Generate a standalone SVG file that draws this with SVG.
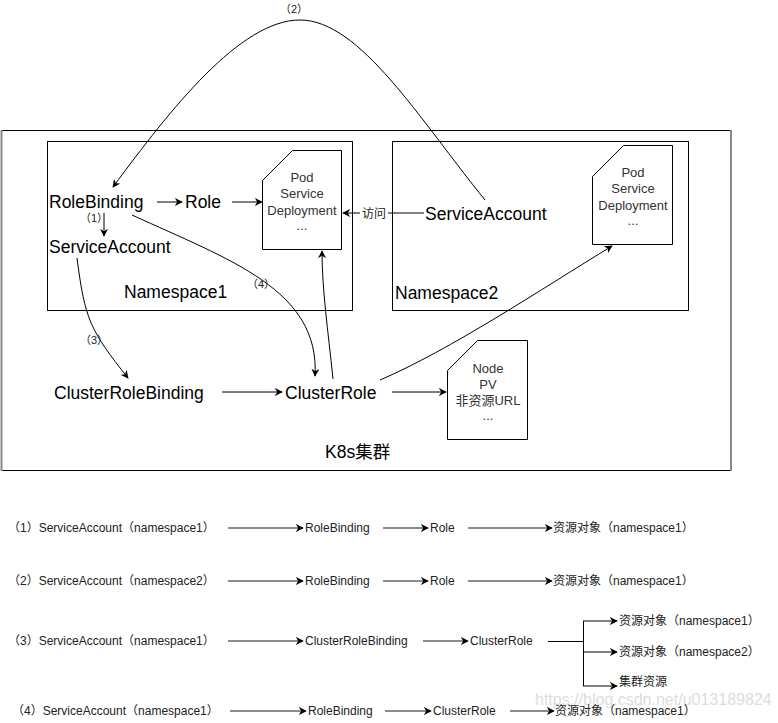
<svg xmlns="http://www.w3.org/2000/svg" width="778" height="723" viewBox="0 0 778 723">
<style>
text{font-family:"Liberation Sans","Noto Sans CJK SC",sans-serif;fill:#000}
.big{font-size:17.5px}
.doc{font-size:13px;fill:#333;text-anchor:middle}
.sm{font-size:12px;fill:#222}
.lbl{font-size:11px;fill:#222}
.box{fill:none;stroke:#000;stroke-width:1}
.docs{fill:#fff;stroke:#000;stroke-width:1}
.c{fill:none;stroke:#000;stroke-width:1;marker-end:url(#ah)}
.g{fill:none;stroke:#666;stroke-width:1.5;marker-end:url(#ah2)}
</style>
<defs>
<marker id="ah" viewBox="0 0 10 10" refX="9" refY="5" markerWidth="8" markerHeight="8" markerUnits="userSpaceOnUse" orient="auto"><path d="M0,0 L10,5 L0,10 L3,5 Z" fill="#000"/></marker>
<marker id="ah2" viewBox="0 0 10 10" refX="9" refY="5" markerWidth="8" markerHeight="8" markerUnits="userSpaceOnUse" orient="auto"><path d="M0,0 L10,5 L0,10 L3,5 Z" fill="#000"/></marker>
</defs>
<rect width="778" height="723" fill="#fff"/>

<g id="cluster">
<line x1="1" y1="130.5" x2="731" y2="130.5" stroke="#000"/>
<line x1="1" y1="470.5" x2="731" y2="470.5" stroke="#000"/>
<line x1="1.5" y1="130" x2="1.5" y2="471" stroke="#888" stroke-width="2"/>
<line x1="731" y1="130" x2="731" y2="471" stroke="#888" stroke-width="2"/>
<text class="big" x="325" y="458">K8s集群</text>
</g>

<g id="namespace1">
<rect class="box" x="47.5" y="141.5" width="305" height="169"/>
<text class="big" x="124" y="298">Namespace1</text>
</g>
<g id="namespace2">
<rect class="box" x="392.5" y="141.5" width="296" height="169"/>
<text class="big" x="395" y="299">Namespace2</text>
</g>

<g id="pod1">
<path class="docs" d="M292.5,150.5 H341.5 V249.5 H262.5 V180.5 Z"/>
<text class="doc" x="302" y="182">Pod</text>
<text class="doc" x="302" y="198">Service</text>
<text class="doc" x="302" y="215">Deployment</text>
<text class="doc" x="302" y="230">...</text>
</g>
<g id="pod2">
<path class="docs" d="M623.5,145.5 H672.5 V244.5 H592.5 V176.5 Z"/>
<text class="doc" x="633" y="177">Pod</text>
<text class="doc" x="633" y="193">Service</text>
<text class="doc" x="633" y="210">Deployment</text>
<text class="doc" x="633" y="225">...</text>
</g>
<g id="nodepv">
<path class="docs" d="M477.5,340.5 H527.5 V439.5 H447.5 V370.5 Z"/>
<text class="doc" x="488" y="373">Node</text>
<text class="doc" x="488" y="389">PV</text>
<text class="doc" x="488" y="405">非资源URL</text>
<text class="doc" x="488" y="420">...</text>
</g>

<g id="rolebinding"><text class="big" x="49" y="208">RoleBinding</text></g>
<g id="role"><text class="big" x="185" y="208">Role</text></g>
<g id="sa1"><text class="big" x="49" y="253">ServiceAccount</text></g>
<g id="sa2"><text class="big" x="425" y="220">ServiceAccount</text></g>
<g id="crb"><text class="big" x="54" y="399">ClusterRoleBinding</text></g>
<g id="cr"><text class="big" x="285" y="399">ClusterRole</text></g>

<g id="connectors">
<line class="c" x1="157" y1="202" x2="182" y2="202"/>
<line class="c" x1="232" y1="202" x2="262" y2="202"/>
<line class="c" x1="104" y1="213" x2="104" y2="236"/>
<text class="lbl" x="80" y="222">（1）</text>
<line class="c" x1="424" y1="213" x2="343" y2="213"/>
<rect x="360" y="205" width="28" height="16" fill="#fff"/>
<text class="sm" x="362" y="218">访问</text>
<path class="c" d="M485,200 C420,120 360,20 300,20 C240,20 170,110 113,187"/>
<text class="lbl" x="280" y="13">（2）</text>
<path class="c" d="M77,258 C85,320 90,330 128,378"/>
<text class="lbl" x="80" y="344">（3）</text>
<path class="c" d="M132,215 C230,260 320,290 315,376"/>
<text class="lbl" x="247" y="288">（4）</text>
<path class="c" d="M333,379 C328,330 322,290 322,251"/>
<path class="c" d="M380,380 C450,350 540,290 612,246"/>
<line class="c" x1="222" y1="392" x2="282" y2="392"/>
<line class="c" x1="392" y1="392" x2="446" y2="392"/>
</g>

<g id="legend">
<text class="sm" x="8" y="532">（1）ServiceAccount（namespace1）</text>
<line class="g" x1="228" y1="528" x2="303" y2="528"/>
<text class="sm" x="305" y="532">RoleBinding</text>
<line class="g" x1="383" y1="528" x2="428" y2="528"/>
<text class="sm" x="430" y="532">Role</text>
<line class="g" x1="468" y1="528" x2="552" y2="528"/>
<text class="sm" x="553" y="532">资源对象（namespace1）</text>

<text class="sm" x="8" y="585">（2）ServiceAccount（namespace2）</text>
<line class="g" x1="228" y1="581" x2="303" y2="581"/>
<text class="sm" x="305" y="585">RoleBinding</text>
<line class="g" x1="383" y1="581" x2="428" y2="581"/>
<text class="sm" x="430" y="585">Role</text>
<line class="g" x1="468" y1="581" x2="552" y2="581"/>
<text class="sm" x="553" y="585">资源对象（namespace1）</text>

<text class="sm" x="8" y="645">（3）ServiceAccount（namespace1）</text>
<line class="g" x1="228" y1="641" x2="303" y2="641"/>
<text class="sm" x="305" y="645">ClusterRoleBinding</text>
<line class="g" x1="423" y1="641" x2="468" y2="641"/>
<text class="sm" x="470" y="645">ClusterRole</text>
<path fill="none" stroke="#000" d="M548,641.5 H583.5 M583.5,621 V686"/>
<line class="c" x1="583" y1="621" x2="617" y2="621"/>
<line class="c" x1="583" y1="652" x2="617" y2="652"/>
<line class="c" x1="583" y1="686" x2="617" y2="686"/>
<text class="sm" x="619" y="625">资源对象（namespace1）</text>
<text class="sm" x="619" y="656">资源对象（namespace2）</text>
<text class="sm" x="619" y="686">集群资源</text>

<text class="sm" x="12" y="715">（4）ServiceAccount（namespace1）</text>
<line class="g" x1="230" y1="711" x2="306" y2="711"/>
<text class="sm" x="308" y="715">RoleBinding</text>
<line class="g" x1="385" y1="711" x2="431" y2="711"/>
<text class="sm" x="433" y="715">ClusterRole</text>
<text x="535" y="705" font-size="16" style="fill:#ddd">https://blog.csdn.net/u013189824</text>
<line class="g" x1="510" y1="711" x2="554" y2="711"/>
<text class="sm" x="555" y="715">资源对象（namespace1）</text>
</g>
</svg>
